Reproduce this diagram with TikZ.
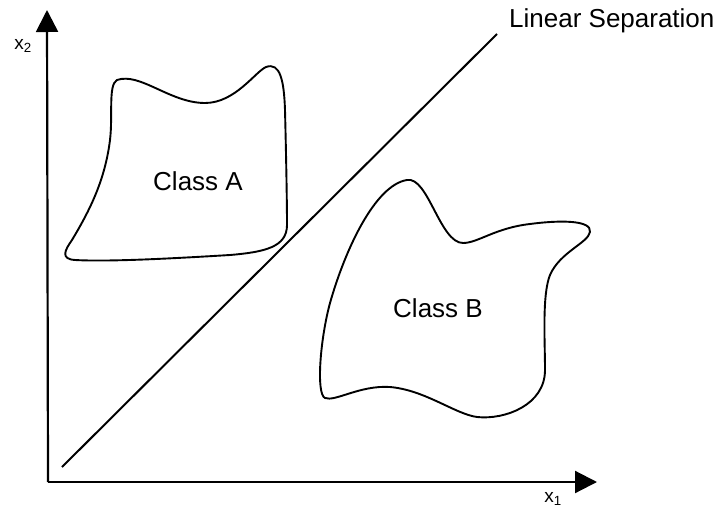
\documentclass[tikz,border=0pt]{standalone}
\usepackage{fontspec}
\setmainfont{Liberation Sans}
\usetikzlibrary{arrows.meta}
\begin{document}
\begin{tikzpicture}[x=1pt,y=-1pt,
  axis/.style={line width=2.2pt,-{Triangle[length=22pt,width=22pt]}},
  blob/.style={line width=1.9pt,line join=round},
  lbl/.style={font=\fontsize{26}{30}\selectfont,inner sep=0pt},
  sub/.style={font=\fontsize{19}{22}\selectfont,inner sep=0pt}]
\useasboundingbox (0,0) rectangle (718,512);
\coordinate (O) at (48,482);
\coordinate (Ytop) at (47,10);
\coordinate (Xend) at (597,482);
\coordinate (Ls) at (62,467);
\coordinate (Le) at (497,34);
\draw[axis] (O) -- (Ytop);
\draw[axis] (O) -- (Xend);
\draw[line width=2pt] (Ls) -- (Le);
\node[sub] (x2) at (23,46) {x\textsubscript{2}};
\node[sub] (x1) at (553,499) {x\textsubscript{1}};
\node[lbl,anchor=west] (sep) at (509,21) {Linear Separation};
% Class A
\draw[blob] (117,80) .. controls (140,72) and (170,103) .. (205,103)
  .. controls (235,103) and (255,72) .. (266,67)
  .. controls (280,62) and (284,80) .. (285,110)
  .. controls (286,150) and (287,200) .. (287,225)
  .. controls (287,247) and (265,252) .. (230,255)
  .. controls (180,258) and (110,262) .. (75,260)
  .. controls (60,259) and (65,250) .. (72,240)
  .. controls (90,210) and (105,180) .. (110,140)
  .. controls (113,115) and (108,85) .. (117,80) -- cycle;
\node[lbl] (A) at (198,181) {Class A};
% Class B
\draw[blob] (407,180) .. controls (428,176) and (440,243) .. (463,243)
  .. controls (478,243) and (495,228) .. (530,224)
  .. controls (560,220) and (592,220) .. (590,232)
  .. controls (588,243) and (560,252) .. (550,275)
  .. controls (542,295) and (545,340) .. (545,370)
  .. controls (545,405) and (505,420) .. (477,417)
  .. controls (455,414) and (425,390) .. (390,387)
  .. controls (360,385) and (335,402) .. (325,398)
  .. controls (316,394) and (320,340) .. (330,303)
  .. controls (345,250) and (375,185) .. (407,180) -- cycle;
\node[lbl] (B) at (438,308) {Class B};
\end{tikzpicture}
\end{document}
